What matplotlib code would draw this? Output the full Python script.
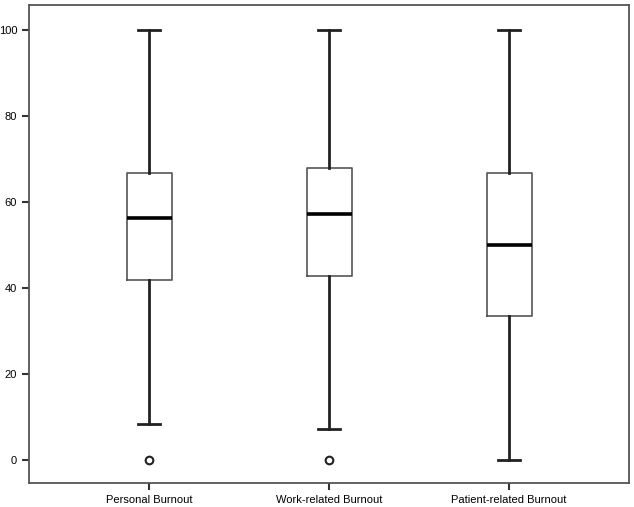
import matplotlib
matplotlib.use("Agg")
import matplotlib.pyplot as plt

plt.rcParams['font.family'] = ['Liberation Sans', 'DejaVu Sans']

categories = ["Personal Burnout", "Work-related Burnout", "Patient-related Burnout"]
whislo = [8.3, 7.1, 0.0]
q1 = [41.8, 42.9, 33.5]
med = [56.3, 57.3, 50.0]
q3 = [66.7, 68.0, 66.7]
whishi = [100.0, 100.0, 100.0]
outliers = [[0.0], [0.0], []]
yticks = [0, 20, 40, 60, 80, 100]

stats = []
for i, c in enumerate(categories):
    stats.append(dict(label=c, whislo=whislo[i], q1=q1[i], med=med[i],
                      q3=q3[i], whishi=whishi[i], fliers=outliers[i]))

fig = plt.figure(figsize=(6.34, 5.07), dpi=100)
ax = fig.add_axes([29/634, 24/507, 600/634, 478/507])

ax.bxp(stats, positions=[1, 2, 3], widths=0.25, patch_artist=False,
       boxprops=dict(color='#555555', linewidth=1.2),
       medianprops=dict(color='black', linewidth=2.6),
       whiskerprops=dict(color='#222222', linewidth=2.0),
       capprops=dict(color='#222222', linewidth=2.0),
       capwidths=0.12,
       flierprops=dict(marker='o', markersize=5.5, markerfacecolor='white',
                       markeredgecolor='#222222', markeredgewidth=1.5))

ax.set_xlim(1 - 2/3, 3 + 2/3)
ax.set_ylim(-5.35, 105.8)
ax.set_yticks(yticks)
ax.set_yticklabels([str(v) for v in yticks])
ax.tick_params(axis='both', labelsize=8, length=5, width=1.5, color='#333333')
for s in ax.spines.values():
    s.set_color('#555555')
    s.set_linewidth(1.3)

fig.savefig("out.png", dpi=100)
